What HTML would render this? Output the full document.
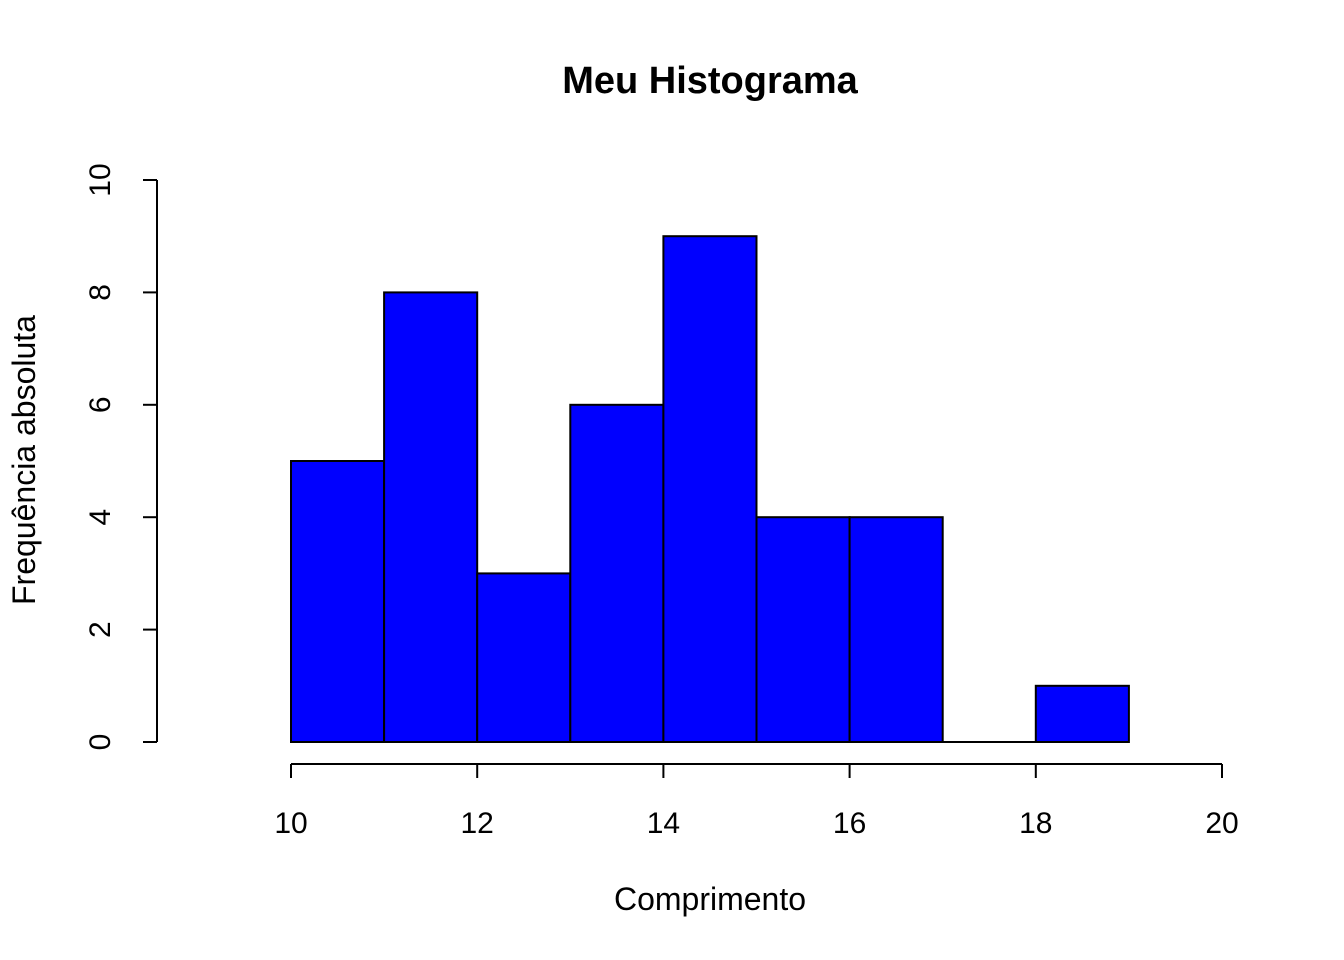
<!DOCTYPE html>
<html>
<head>
<meta charset="utf-8">
<style>
html,body{margin:0;padding:0;background:#fff;}
svg{display:block;font-family:"Liberation Sans",Arial,sans-serif;}
</style>
</head>
<body>
<svg id="chart" width="1344" height="960" viewBox="0 0 1344 960">
<text x="710" y="93" text-anchor="middle" font-size="38" font-weight="bold">Meu Histograma</text>
<text x="710" y="910" text-anchor="middle" font-size="32">Comprimento</text>
<text transform="translate(35,460) rotate(-90)" text-anchor="middle" font-size="32">Frequência absoluta</text>
<g id="bars"></g>
<g id="xaxis"></g>
<g id="yaxis"></g>
</svg>
<script>
const binStarts = [10, 11, 12, 13, 14, 15, 16, 17, 18];
const binWidth = 1;
const counts = [5, 8, 3, 6, 9, 4, 4, 0, 1];
const xTicks = [10, 12, 14, 16, 18, 20];
const yTicks = [0, 2, 4, 6, 8, 10];

const NS = "http://www.w3.org/2000/svg";
function xs(v){ return 291 + (v - 10) * (1222 - 291) / 10; }
function ys(v){ return 742 - v * (742 - 180) / 10; }
function mk(tag, attrs, parent){
  const e = document.createElementNS(NS, tag);
  for (const k in attrs) e.setAttribute(k, attrs[k]);
  parent.appendChild(e);
  return e;
}
const bars = document.getElementById('bars');
binStarts.forEach((b, i) => {
  const x0 = xs(b), x1 = xs(b + binWidth), y = ys(counts[i]);
  if (counts[i] === 0) {
    const l = mk('line', {x1: x0, x2: x1, y1: y, y2: y, stroke: '#000', 'stroke-width': 2}, bars);
    
    
    return;
  }
  const r = mk('rect', {x: x0, y: y, width: x1 - x0, height: ys(0) - y, fill: '#0000ff', stroke: '#000', 'stroke-width': 2}, bars);
  
  
});
const xa = document.getElementById('xaxis');
const xl = mk('line', {x1: xs(xTicks[0]), x2: xs(xTicks[xTicks.length - 1]), y1: 764, y2: 764, stroke: '#000', 'stroke-width': 2}, xa);


xTicks.forEach(t => {
  mk('line', {x1: xs(t), x2: xs(t), y1: 764, y2: 778, stroke: '#000', 'stroke-width': 2}, xa);
  const tx = mk('text', {x: xs(t), y: 833, 'text-anchor': 'middle', 'font-size': 30}, xa);
  tx.textContent = t;
  
  
});
const ya = document.getElementById('yaxis');
const yl = mk('line', {x1: 157, x2: 157, y1: ys(yTicks[0]), y2: ys(yTicks[yTicks.length - 1]), stroke: '#000', 'stroke-width': 2}, ya);


yTicks.forEach(t => {
  mk('line', {x1: 143, x2: 157, y1: ys(t), y2: ys(t), stroke: '#000', 'stroke-width': 2}, ya);
  const tx = mk('text', {transform: 'translate(110,' + ys(t) + ') rotate(-90)', 'text-anchor': 'middle', 'font-size': 30}, ya);
  tx.textContent = t;
  
  
});
</script>
</body>
</html>
